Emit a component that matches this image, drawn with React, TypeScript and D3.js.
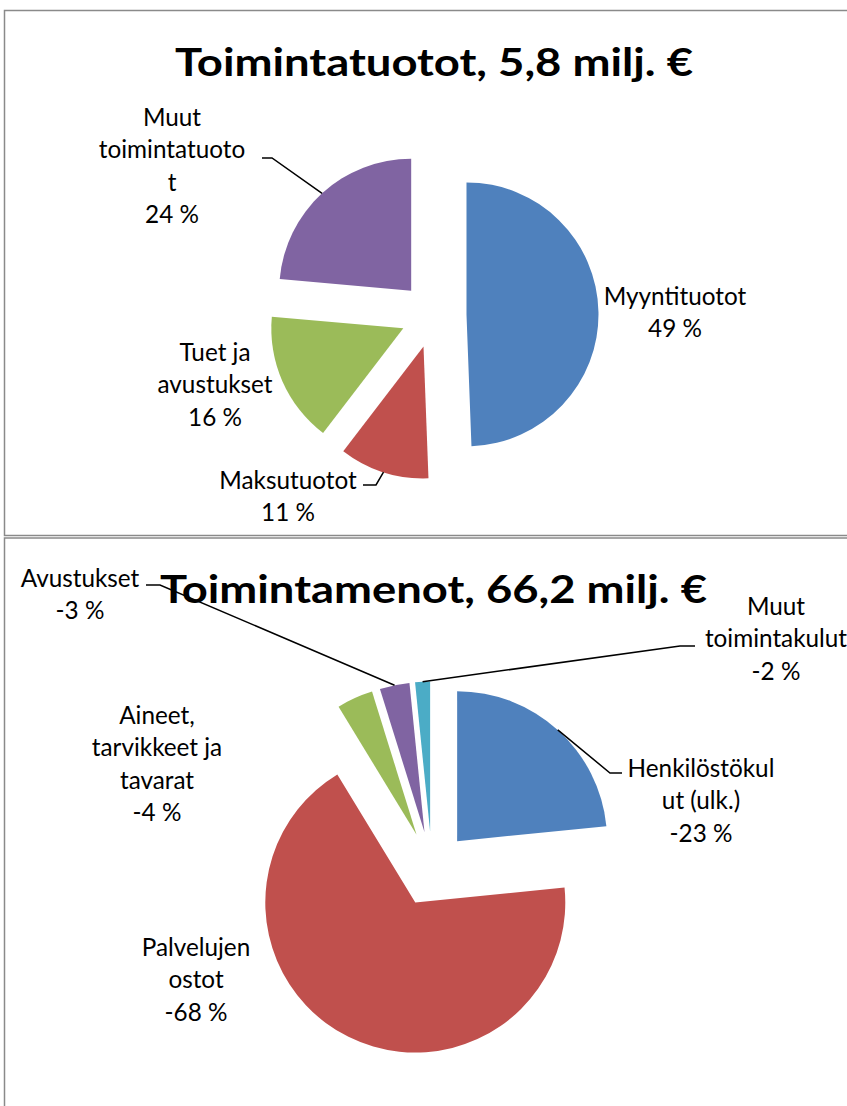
import React from "react";
import * as d3 from "d3";

// ---------- Data ----------
const incomeTitle = "Toimintatuotot, 5,8 milj. €";
const incomeCategories = ["Myyntituotot", "Maksutuotot", "Tuet ja avustukset", "Muut toimintatuotot"];
const incomeShares = [49.4, 11.0, 16.0, 23.6];
const incomeLabelLines = [["Myyntituotot"], ["Maksutuotot"], ["Tuet ja", "avustukset"], ["Muut", "toimintatuoto", "t"]];

const expenseTitle = "Toimintamenot, 66,2 milj. €";
const expenseCategories = ["Henkilöstökulut (ulk.)", "Palvelujen ostot", "Aineet, tarvikkeet ja tavarat", "Avustukset", "Muut toimintakulut"];
const expenseShares = [-23.4, -67.9, -3.9, -3.2, -1.6];
const expenseLabelLines = [["Henkilöstökul", "ut (ulk.)"], ["Palvelujen", "ostot"], ["Aineet,", "tarvikkeet ja", "tavarat"], ["Avustukset"], ["Muut", "toimintakulut"]];

const sliceColors = ["#4F81BD", "#C0504D", "#9BBB59", "#8064A2", "#4BACC6"];

// ---------- Layout ----------
type LabelPos = { x: number; y: number; leader?: "start" | "end"; anchor?: [number, number][] };

const FONT = "Lato, 'Open Sans', sans-serif";
const LINE = 32.3;

const topChart = {
  cx: 433.5, cy: 315, r: 132, explode: 33,
  titleX: 434, titleY: 76, titleLen: 518,
  labels: [
    { x: 675, y: 305 },
    { x: 288, y: 489, leader: "start", anchor: [[363, 485], [376, 485]] },
    { x: 215, y: 361 },
    { x: 172, y: 126, leader: "start", anchor: [[262, 158], [272, 158]] },
  ] as LabelPos[],
};

const bottomChart = {
  cx: 432, cy: 869, r: 150, explode: 37.5,
  titleX: 433.5, titleY: 603, titleLen: 547,
  labels: [
    { x: 701, y: 777, leader: "end", anchor: [[622, 773], [610, 773]] },
    { x: 196, y: 956 },
    { x: 157, y: 724 },
    { x: 80, y: 587, leader: "start", anchor: [[146, 585], [160, 585]] },
    { x: 776, y: 615, leader: "end", anchor: [[695, 646], [680, 646]] },
  ] as LabelPos[],
};

function PieChart({ title, shares, lines, layout }: { title: string; shares: number[]; lines: string[][]; layout: typeof topChart }) {
  const pie = d3.pie<number>().sort(null).value((v) => Math.abs(v)).startAngle(0).endAngle(2 * Math.PI);
  const arcs = pie(shares);
  const arcGen = d3.arc<d3.PieArcDatum<number>>().innerRadius(0).outerRadius(layout.r);

  return (
    <g>
      <text x={layout.titleX} y={layout.titleY} textAnchor="middle" fontFamily={FONT} fontWeight={700} fontSize={39}
        textLength={layout.titleLen} lengthAdjust="spacingAndGlyphs" fill="#000">{title}</text>
      {arcs.map((a, i) => {
        const mid = (a.startAngle + a.endAngle) / 2;
        const ox = layout.cx + layout.explode * Math.sin(mid);
        const oy = layout.cy - layout.explode * Math.cos(mid);
        return <path key={i} d={arcGen(a) || ""} transform={`translate(${ox},${oy})`} fill={sliceColors[i]} />;
      })}
      {arcs.map((a, i) => {
        const lp = layout.labels[i];
        if (!lp.leader || !lp.anchor) return null;
        const mid = (a.startAngle + a.endAngle) / 2;
        const ox = layout.cx + layout.explode * Math.sin(mid);
        const oy = layout.cy - layout.explode * Math.cos(mid);
        const px = ox + layout.r * Math.sin(mid);
        const py = oy - layout.r * Math.cos(mid);
        const pts: [number, number][] = [...lp.anchor, [px, py]];
        return <path key={"l" + i} d={d3.line()(pts) || ""} fill="none" stroke="#000" strokeWidth={1.5} />;
      })}
      {arcs.map((a, i) => {
        const lp = layout.labels[i];
        const all = [...lines[i], `${Math.round(a.data)} %`];
        return (
          <text key={"t" + i} textAnchor="middle" fontFamily={FONT} fontSize={24.3} fill="#000">
            {all.map((s, k) => (
              <tspan key={k} x={lp.x} y={lp.y + k * LINE}>{s}</tspan>
            ))}
          </text>
        );
      })}
    </g>
  );
}

export default function App() {
  return (
    <svg width={847} height={1106} style={{ position: "absolute", left: 0, top: 0, background: "#fff" }}>
      <rect x={0} y={0} width={847} height={1106} fill="#fff" />
      <rect x={4.5} y={10.5} width={900} height={525} fill="none" stroke="#8a8a8a" strokeWidth={1.5} />
      <rect x={4.5} y={538} width={900} height={700} fill="none" stroke="#8a8a8a" strokeWidth={1.5} />
      <PieChart title={incomeTitle} shares={incomeShares} lines={incomeLabelLines} layout={topChart} />
      <PieChart title={expenseTitle} shares={expenseShares} lines={expenseLabelLines} layout={bottomChart} />
    </svg>
  );
}
